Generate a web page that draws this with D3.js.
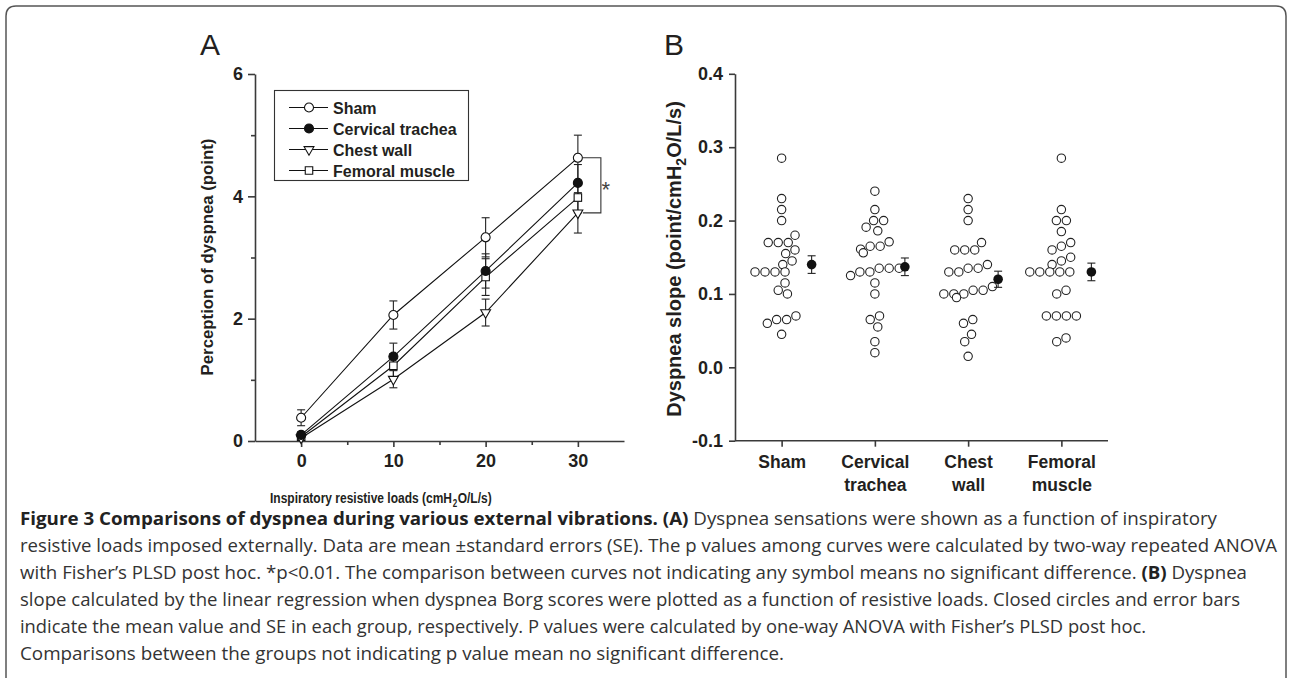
<!DOCTYPE html>
<html>
<head>
<meta charset="utf-8">
<script src="https://cdn.jsdelivr.net/npm/d3@7"></script>
<style>
  body { margin: 0; background: #fff; }
  svg text { font-family: "Liberation Sans", Arial, Helvetica, sans-serif; fill: #231f20; }
  .axis path, .axis line { stroke: #3a3a3a; stroke-width: 1.6; }
  .axis text { font-size: 18px; font-weight: bold; fill: #231f20; }
</style>
</head>
<body>
<div id="fig"></div>
<script>

// ---- panel A data (mean +- SE of Borg score at each load)
var loads = [0, 10, 20, 30];
var shamScore = [0.38, 2.06, 3.33, 4.63];
var shamErr = [0.13, 0.23, 0.32, 0.37];
var cervicalScore = [0.10, 1.38, 2.78, 4.22];
var cervicalErr = [0.05, 0.22, 0.28, 0.30];
var chestScore = [0.05, 1.01, 2.10, 3.73];
var chestErr = [0.04, 0.14, 0.22, 0.33];
var femoralScore = [0.07, 1.23, 2.68, 3.98];
var femoralErr = [0.05, 0.20, 0.30, 0.25];
var yTicksA = [0, 2, 4, 6];
var yMinorA = [1, 3, 5];
var xMinorA = [5, 15, 25];

// ---- panel B data (individual dyspnea slopes)
var slopeGroups = ["Sham", "Cervical trachea", "Chest wall", "Femoral muscle"];
var shamSlopes = [0.285, 0.230, 0.215, 0.200, 0.180, 0.170, 0.170, 0.170, 0.160, 0.155, 0.145, 0.140,
  0.130, 0.130, 0.130, 0.130, 0.115, 0.105, 0.100, 0.070, 0.065, 0.065, 0.060, 0.045];
var cervicalSlopes = [0.240, 0.215, 0.200, 0.200, 0.191, 0.186, 0.171, 0.165, 0.165, 0.161, 0.156, 0.135,
  0.135, 0.135, 0.130, 0.130, 0.125, 0.115, 0.100, 0.070, 0.065, 0.055, 0.035, 0.020];
var chestSlopes = [0.230, 0.215, 0.200, 0.170, 0.160, 0.160, 0.160, 0.140, 0.135, 0.135, 0.130, 0.130,
  0.110, 0.105, 0.105, 0.100, 0.100, 0.100, 0.095, 0.065, 0.060, 0.045, 0.035, 0.015];
var femoralSlopes = [0.285, 0.215, 0.200, 0.200, 0.185, 0.170, 0.165, 0.160, 0.150, 0.145, 0.140, 0.130,
  0.130, 0.130, 0.130, 0.130, 0.105, 0.100, 0.070, 0.070, 0.070, 0.070, 0.040, 0.035];
var slopeMeans = [0.140, 0.137, 0.120, 0.130];
var slopeSE = [0.012, 0.012, 0.011, 0.012];
var yTicksB = [-0.1, 0, 0.1, 0.2, 0.3, 0.4];

// ---- caption, one entry per printed line (b = bold piece)
var captionLines = [
  [{ t: "Figure 3 Comparisons of dyspnea during various external vibrations. (A)", b: true },
   { t: " Dyspnea sensations were shown as a function of inspiratory", b: false }],
  [{ t: "resistive loads imposed externally. Data are mean \u00b1standard errors (SE). The p values among curves were calculated by two-way repeated ANOVA", b: false }],
  [{ t: "with Fisher\u2019s PLSD post hoc. *p<0.01. The comparison between curves not indicating any symbol means no significant difference. ", b: false },
   { t: "(B)", b: true }, { t: " Dyspnea", b: false }],
  [{ t: "slope calculated by the linear regression when dyspnea Borg scores were plotted as a function of resistive loads. Closed circles and error bars", b: false }],
  [{ t: "indicate the mean value and SE in each group, respectively. P values were calculated by one-way ANOVA with Fisher\u2019s PLSD post hoc.", b: false }],
  [{ t: "Comparisons between the groups not indicating p value mean no significant difference.", b: false }]
];
var captionWidths = [1197, 1257, 1227, 1220, 1126, 764];

var svg = d3.select("#fig")
  .append("svg")
  .attr("width", 1292)
  .attr("height", 678);

// frame round the figure
svg.append("path")
  .attr("d", "M6,678V16Q6,6 16,6H1276Q1286,6 1286,16V678")
  .attr("fill", "none")
  .attr("stroke", "#555")
  .attr("stroke-width", 1.5);

// ================= panel A =================
var xA = d3.scaleLinear().domain([-5, 35]).range([255, 624]);
var yA = d3.scaleLinear().domain([0, 6]).range([441, 74]);

svg.append("text").attr("x", 200).attr("y", 55)
  .style("font-size", "30px").text("A");

// Y axis
svg.append("g").attr("class", "axis")
  .attr("transform", "translate(255,0)")
  .call(d3.axisLeft(yA).tickValues(yTicksA).tickSize(7).tickPadding(5).tickSizeOuter(0).tickFormat(d3.format("d")));
svg.append("g").attr("class", "axis")
  .attr("transform", "translate(255,0)")
  .call(d3.axisLeft(yA).tickValues(yMinorA).tickSize(4).tickSizeOuter(0).tickFormat(""))
  .select(".domain").remove();

// X axis
svg.append("g").attr("class", "axis")
  .attr("transform", "translate(0,441)")
  .call(d3.axisBottom(xA).tickValues(loads).tickSize(6).tickPadding(7).tickSizeOuter(0).tickFormat(d3.format("d")));
svg.append("g").attr("class", "axis")
  .attr("transform", "translate(0,441)")
  .call(d3.axisBottom(xA).tickValues(xMinorA).tickSize(4).tickSizeOuter(0).tickFormat(""))
  .select(".domain").remove();

// axis titles
svg.append("text")
  .attr("transform", "translate(213,257) rotate(-90)")
  .attr("text-anchor", "middle")
  .style("font-size", "16.8px").style("font-weight", "bold")
  .text("Perception of dyspnea (point)");

// narrow bold title: squeeze horizontally instead of relying on a narrow font
var xTitle = svg.append("g")
  .attr("transform", "translate(270,503) scale(0.8,1)")
  .append("text")
  .style("font-size", "15px").style("font-weight", "bold");
xTitle.append("tspan").text("Inspiratory resistive loads (cmH");
xTitle.append("tspan").attr("dx", 1).attr("dy", 4).style("font-size", "10px").text("2");
xTitle.append("tspan").attr("dx", 0.5).attr("dy", -4).text("O/L/s)");

var seriesA = [
  { name: "Sham", values: shamScore, errors: shamErr, type: d3.symbolCircle, size: 64, fill: "#fff", rot: 0 },
  { name: "Cervical trachea", values: cervicalScore, errors: cervicalErr, type: d3.symbolCircle, size: 64, fill: "#111", rot: 0 },
  { name: "Chest wall", values: chestScore, errors: chestErr, type: d3.symbolTriangle, size: 42, fill: "#fff", rot: 180 },
  { name: "Femoral muscle", values: femoralScore, errors: femoralErr, type: d3.symbolSquare, size: 56, fill: "#fff", rot: 0 }
];

var lineA = d3.line()
  .x(function (d, i) { return xA(loads[i]); })
  .y(function (d) { return yA(d); });

// lines
svg.append("g").selectAll("path")
  .data(seriesA).enter()
  .append("path")
  .attr("d", function (s) { return lineA(s.values); })
  .attr("fill", "none").attr("stroke", "#111").attr("stroke-width", 1.1);

// error bars
seriesA.forEach(function (s) {
  var g = svg.append("g").attr("stroke", "#222").attr("stroke-width", 1.1);
  loads.forEach(function (l, i) {
    var x = xA(l), y0 = yA(s.values[i] - s.errors[i]), y1 = yA(s.values[i] + s.errors[i]);
    g.append("line").attr("x1", x).attr("x2", x).attr("y1", y0).attr("y2", y1);
    g.append("line").attr("x1", x - 4).attr("x2", x + 4).attr("y1", y0).attr("y2", y0);
    g.append("line").attr("x1", x - 4).attr("x2", x + 4).attr("y1", y1).attr("y2", y1);
  });
});

// markers
seriesA.slice().reverse().forEach(function (s) {
  svg.append("g").selectAll("path")
    .data(s.values).enter()
    .append("path")
    .attr("d", d3.symbol().type(s.type).size(s.size))
    .attr("transform", function (d, i) { return "translate(" + xA(loads[i]) + "," + yA(d) + ") rotate(" + s.rot + ")"; })
    .attr("fill", s.fill).attr("stroke", "#111").attr("stroke-width", 1.1);
});

// significance bracket between Sham and Chest wall at 30
var bx = xA(30);
svg.append("path")
  .attr("d", "M" + (bx + 5) + "," + yA(shamScore[3]) + "H" + (bx + 23) + "V" + yA(chestScore[3]) + "H" + (bx + 5))
  .attr("fill", "none").attr("stroke", "#333").attr("stroke-width", 1.1);
svg.append("text")
  .attr("x", bx + 28).attr("y", (yA(shamScore[3]) + yA(chestScore[3])) / 2 + 12)
  .attr("text-anchor", "middle")
  .style("font-size", "22px").style("fill", "#444").text("*");

// legend
var legend = svg.append("g");
legend.append("rect")
  .attr("x", 274.5).attr("y", 90.5).attr("width", 194).attr("height", 90)
  .attr("fill", "#fff").attr("stroke", "#333").attr("stroke-width", 1.1);
seriesA.forEach(function (s, i) {
  var ly = 107.5 + i * 21;
  legend.append("line").attr("x1", 289).attr("x2", 328).attr("y1", ly).attr("y2", ly)
    .attr("stroke", "#111").attr("stroke-width", 1.1);
  legend.append("path")
    .attr("d", d3.symbol().type(s.type).size(s.size))
    .attr("transform", "translate(309," + ly + ") rotate(" + s.rot + ")")
    .attr("fill", s.fill).attr("stroke", "#111").attr("stroke-width", 1.1);
  legend.append("text").attr("x", 333).attr("y", ly + 6)
    .style("font-size", "16px").style("font-weight", "bold").text(s.name);
});

// ================= panel B =================
var xB = d3.scalePoint().domain(slopeGroups).range([735, 1108]).padding(0.5);
var yB = d3.scaleLinear().domain([-0.1, 0.4]).range([440.7, 73.8]);

svg.append("text").attr("x", 664).attr("y", 55)
  .style("font-size", "30px").text("B");

svg.append("g").attr("class", "axis")
  .attr("transform", "translate(735,0)")
  .call(d3.axisLeft(yB).tickValues(yTicksB).tickSize(6).tickPadding(6).tickSizeOuter(0)
    .tickFormat(function (d) { return d.toFixed(1); }));

var xAxisB = svg.append("g").attr("class", "axis")
  .attr("transform", "translate(0,440.7)")
  .call(d3.axisBottom(xB).tickSize(6).tickPadding(9).tickSizeOuter(0));
xAxisB.select(".domain").attr("d", "M735,0H1108");
xAxisB.selectAll(".tick text")
  .style("font-size", "17.5px")
  .each(function (d) {
    var words = d.split(" ");
    var t = d3.select(this).text(null);
    words.forEach(function (w, i) {
      t.append("tspan").attr("x", 0).attr("dy", i === 0 ? "0.71em" : "1.3em").text(w);
    });
  });

var yTitleB = svg.append("text")
  .attr("transform", "translate(681,259) rotate(-90)")
  .attr("text-anchor", "middle")
  .style("font-size", "20px").style("font-weight", "bold");
yTitleB.append("tspan").text("Dyspnea slope (point/cmH");
yTitleB.append("tspan").attr("dy", 5).style("font-size", "14px").text("2");
yTitleB.append("tspan").attr("dy", -5).text("O/L/s)");

// column scatter: close values share a row, rows are centred on the group,
// neighbours in a row only move apart as far as they need to,
// a row is nudged sideways when it would touch a circle already drawn
function columnScatter(values, cx) {
  var tol = 0.011, minDist = 10, nudge = 2.9;
  var sorted = values.slice().sort(d3.descending);
  var rows = [];
  sorted.forEach(function (v) {
    var last = rows[rows.length - 1];
    if (last && last[0] - v <= tol) last.push(v); else rows.push([v]);
  });
  var placed = [];
  var shifts = [0, 1, -1, 2, -2, 3, -3, 4, -4];
  rows.forEach(function (row) {
    row.sort(d3.ascending);
    var xs = [0];
    for (var i = 1; i < row.length; i++) {
      var dy = Math.abs(yB(row[i]) - yB(row[i - 1]));
      xs.push(xs[i - 1] + Math.max(6, Math.sqrt(Math.max(0, minDist * minDist - dy * dy))));
    }
    var mid = xs[xs.length - 1] / 2;
    for (var s = 0; s < shifts.length; s++) {
      var cand = row.map(function (v, i) {
        return { x: cx + xs[i] - mid + shifts[s] * nudge, y: yB(v) };
      });
      var ok = cand.every(function (c) {
        return placed.every(function (p) { return Math.hypot(p.x - c.x, p.y - c.y) >= minDist - 0.5; });
      });
      if (ok || s === shifts.length - 1) { placed = placed.concat(cand); break; }
    }
  });
  return placed;
}

var slopeSets = [shamSlopes, cervicalSlopes, chestSlopes, femoralSlopes];
slopeSets.forEach(function (vals, gi) {
  var pts = columnScatter(vals, xB(slopeGroups[gi]));
  svg.append("g").selectAll("circle")
    .data(pts).enter()
    .append("circle")
    .attr("cx", function (d) { return d.x; })
    .attr("cy", function (d) { return d.y; })
    .attr("r", 4.2)
    .attr("fill", "#fff").attr("stroke", "#222").attr("stroke-width", 1.1);
});

// group means with SE
slopeGroups.forEach(function (g, i) {
  var x = xB(g) + 30;
  var y0 = yB(slopeMeans[i] - slopeSE[i]), y1 = yB(slopeMeans[i] + slopeSE[i]);
  var mg = svg.append("g").attr("stroke", "#222").attr("stroke-width", 1.1);
  mg.append("line").attr("x1", x).attr("x2", x).attr("y1", y0).attr("y2", y1);
  mg.append("line").attr("x1", x - 4).attr("x2", x + 4).attr("y1", y0).attr("y2", y0);
  mg.append("line").attr("x1", x - 4).attr("x2", x + 4).attr("y1", y1).attr("y2", y1);
  svg.append("circle").attr("cx", x).attr("cy", yB(slopeMeans[i])).attr("r", 4.8).attr("fill", "#111");
});

// ================= caption =================
captionLines.forEach(function (parts, i) {
  var t = svg.append("text")
    .attr("x", 20).attr("y", 525 + i * 27)
    .attr("textLength", captionWidths[i]).attr("lengthAdjust", "spacingAndGlyphs")
    .style("font-family", "'Open Sans', 'Noto Sans', sans-serif")
    .style("font-size", "17.5px").style("fill", "#333");
  parts.forEach(function (p) {
    t.append("tspan")
      .style("font-weight", p.b ? "bold" : "normal")
      .style("fill", p.b ? "#222" : "#333")
      .text(p.t);
  });
});

</script>
</body>
</html>
